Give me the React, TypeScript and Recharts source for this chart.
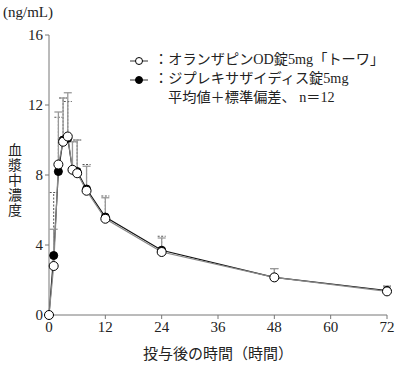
import React from 'react';
import { LineChart, Line, XAxis, YAxis, ErrorBar } from 'recharts';

const hours = [0, 1, 2, 3, 4, 5, 6, 8, 12, 24, 48, 72];
const odMean = [0, 2.8, 8.6, 9.9, 10.2, 8.3, 8.1, 7.1, 5.5, 3.6, 2.15, 1.35];
const odSd = [0, 2.1, 3.0, 2.5, 2.5, 1.6, 1.9, 1.4, 1.2, 0.8, 0.5, 0.3];
const zyMean = [0, 3.4, 8.2, 10.0, 10.1, 8.3, 8.2, 7.2, 5.6, 3.7, 2.15, 1.4];
const zySd = [0, 3.6, 3.1, 2.4, 2.1, 1.6, 1.8, 1.4, 1.2, 0.8, 0.5, 0.25];
const xTicks = [0, 12, 24, 36, 48, 60, 72];
const yTicks = [0, 4, 8, 12, 16];

const data = hours.map((h, i) => ({
  h,
  od: odMean[i],
  odErr: [0, odSd[i]],
  zy: zyMean[i],
  zyErr: [0, zySd[i]],
}));

const font = '"Liberation Serif", "Noto Sans CJK JP", serif';

const LegendIcon = ({ filled }: { filled: boolean }) => (
  <svg width={18} height={10} style={{ verticalAlign: 'middle', marginRight: 6 }}>
    <line x1={0} y1={5} x2={18} y2={5} stroke="#333" strokeWidth={1} />
    <circle cx={9} cy={5} r={3.5} fill={filled ? '#000' : '#fff'} stroke="#000" strokeWidth={1} />
  </svg>
);

export default function App() {
  return (
    <div style={{ position: 'absolute', left: 0, top: 0, width: 400, height: 368, background: '#fff', fontFamily: font, color: '#222' }}>
      <LineChart width={400} height={368} data={data} margin={{ top: 35, right: 13, left: 0, bottom: 23 }}>
        <XAxis
          dataKey="h"
          type="number"
          domain={[0, 72]}
          ticks={xTicks}
          tickSize={4}
          stroke="#777"
          tick={{ fill: '#222', fontSize: 15, fontFamily: font }}
          tickMargin={2}
        />
        <YAxis
          type="number"
          domain={[0, 16]}
          ticks={yTicks}
          width={49}
          tickSize={4}
          stroke="#777"
          tick={{ fill: '#222', fontSize: 15, fontFamily: font }}
          tickMargin={2}
        />
        <Line
          dataKey="zy"
          stroke="#111"
          strokeWidth={1.2}
          isAnimationActive={false}
          dot={{ r: 4, fill: '#000', stroke: '#000', strokeWidth: 1 }}
        >
          <ErrorBar dataKey="zyErr" direction="y" width={4} stroke="#555" strokeWidth={1} strokeDasharray="2 1.5" />
        </Line>
        <Line
          dataKey="od"
          stroke="#888"
          strokeWidth={1.2}
          isAnimationActive={false}
          dot={{ r: 4.5, fill: '#fff', stroke: '#000', strokeWidth: 1 }}
        >
          <ErrorBar dataKey="odErr" direction="y" width={4} stroke="#999" strokeWidth={1.3} />
        </Line>
      </LineChart>
      <div style={{ position: 'absolute', left: 3, top: 4, fontSize: 15 }}>(ng/mL)</div>
      <div style={{ position: 'absolute', left: 7, top: 143, width: 16, fontSize: 14, lineHeight: '15px', textAlign: 'center' }}>
        {'血漿中濃度'.split('').map((c, i) => (
          <div key={i}>{c}</div>
        ))}
      </div>
      <div style={{ position: 'absolute', left: 0, width: 436, top: 342, fontSize: 15, textAlign: 'center' }}>投与後の時間（時間）</div>
      <div style={{ position: 'absolute', left: 130, top: 50, fontSize: 14.2, lineHeight: '19px', whiteSpace: 'nowrap' }}>
        <div>
          <LegendIcon filled={false} />
          ：オランザピンOD錠5mg「トーワ」
        </div>
        <div>
          <LegendIcon filled={true} />
          ：ジプレキサザイディス錠5mg
        </div>
        <div style={{ paddingLeft: 38 }}>平均値＋標準偏差、 n＝12</div>
      </div>
    </div>
  );
}
